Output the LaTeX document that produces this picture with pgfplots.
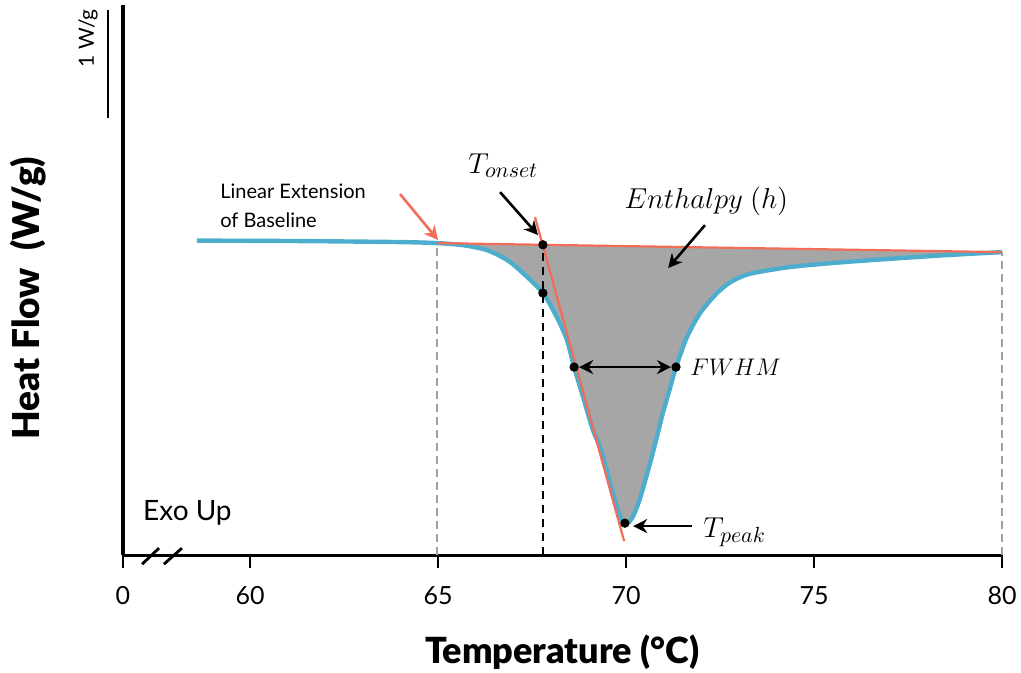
\documentclass[border=0pt]{standalone}
\usepackage{fontspec}
\setmainfont{Lato}[BoldFont={Lato Black}]
\usepackage{pgfplots}
\usepackage{pgfplotstable}
\pgfplotsset{compat=1.18}
\usepgfplotslibrary{fillbetween}
\usetikzlibrary{arrows.meta}

\definecolor{dscblue}{RGB}{76,174,204}
\definecolor{coral}{RGB}{243,108,88}
\definecolor{areagray}{RGB}{166,166,166}
\definecolor{dashgray}{RGB}{160,160,160}

% DSC trace: temperature (C), heat flow (W/g, offset)
\pgfplotstableread{
T y
58.59 2.783
61.33 2.779
63.99 2.770
64.97 2.761
65.66 2.743
66.30 2.699
66.84 2.611
67.26 2.496
67.79 2.319
68.16 2.106
68.43 1.903
68.62 1.664
68.86 1.398
69.12 1.106
69.31 0.956
69.52 0.708
69.76 0.425
69.89 0.310
69.97 0.283
70.08 0.292
70.19 0.345
70.29 0.425
70.40 0.531
70.64 0.814
70.82 1.044
70.98 1.257
71.17 1.478
71.33 1.664
71.62 1.929
71.97 2.142
72.42 2.319
72.80 2.420
73.30 2.490
74.36 2.549
75.69 2.590
77.29 2.628
78.54 2.655
80.00 2.681
}\dsc

\tikzset{arr/.style={-{Stealth[length=7pt,width=7pt]}, line width=1.3pt}}

\begin{document}
\begin{tikzpicture}
\begin{axis}[
  scale only axis,
  width=439.5pt, height=275pt,
  at={(0,0)}, anchor=south west,
  xmin=56.62, xmax=80, ymin=0, ymax=4.867,
  axis lines*=left,
  axis line style={line width=1.6pt, black},
  xtick={56.62,60,65,70,75,80},
  xticklabels={0,60,65,70,75,80},
  ytick=\empty,
  tick align=outside,
  major tick length=6.5pt,
  every tick/.style={black, line width=1.4pt},
  xticklabel style={font=\fontsize{12.5}{14}\selectfont, anchor=north, inner sep=0pt},
  xticklabel shift=9pt,
  clip=false,
]
% guide lines
\addplot[dashgray, line width=0.8pt, dash pattern=on 4pt off 2.5pt] coordinates {(64.97,0) (64.97,2.761)};
\addplot[dashgray, line width=0.8pt, dash pattern=on 4pt off 2.5pt] coordinates {(80,0) (80,2.681)};

% baseline and trace, enthalpy area between them
\addplot[name path=base, draw=none] coordinates {(64.97,2.761) (80,2.681)};
\addplot[name path=trace, draw=none] table[x=T, y=y] {\dsc};
\addplot[areagray, draw=none] fill between[of=trace and base, soft clip={domain=64.97:80}];
\addplot[dscblue, line width=2.2pt, smooth, tension=0.45] table[x=T, y=y] {\dsc};
\addplot[coral, line width=1.1pt] coordinates {(64.97,2.761) (80,2.681)};
\addplot[coral, line width=1.1pt] coordinates {(67.58,2.991) (69.95,0.124)};

% onset line
\addplot[black, line width=1pt, dash pattern=on 4pt off 3pt] coordinates {(67.79,0) (67.79,2.746)};

% key points
\addplot[only marks, mark=*, mark size=2.1pt, black] coordinates {
(67.79,2.746) (67.79,2.319) (68.62,1.664) (71.33,1.664) (69.97,0.283)};

% arrows
\draw[-{Stealth[length=7pt,width=7pt]}, line width=1.3pt, coral] (axis cs:63.99,3.195) -- (axis cs:65.0,2.788);
\draw[arr] (axis cs:66.65,3.212) -- (axis cs:67.66,2.832);
\draw[arr] (axis cs:72.10,2.920) -- (axis cs:71.12,2.540);
\draw[arr, {Stealth[length=7pt,width=7pt]}-{Stealth[length=7pt,width=7pt]}, shorten <=2.5pt, shorten >=2.5pt] (axis cs:68.62,1.664) -- (axis cs:71.33,1.664);
\draw[arr] (axis cs:71.76,0.257) -- (axis cs:70.19,0.257);

% labels
\node[anchor=base west, inner sep=0pt, font=\fontsize{10}{11}\selectfont] at (axis cs:59.20,3.159) {Linear Extension};
\node[anchor=base west, inner sep=0pt, font=\fontsize{10}{11}\selectfont] at (axis cs:59.20,2.903) {of Baseline};
\node[anchor=base west, inner sep=0pt, font=\fontsize{15}{17}\selectfont] at (axis cs:65.80,3.381) {$T_{onset}$};
\node[anchor=base west, inner sep=0pt, font=\fontsize{13.5}{16}\selectfont] at (axis cs:69.95,3.071) {$Enthalpy\ (h)$};
\node[anchor=base west, inner sep=0pt, font=\fontsize{12.5}{15}\selectfont] at (axis cs:71.70,1.593) {$FWHM$};
\node[anchor=base west, inner sep=0pt, font=\fontsize{15}{17}\selectfont] at (axis cs:72.05,0.159) {$T_{peak}$};
\node[anchor=base west, inner sep=0pt, font=\fontsize{14}{16}\selectfont] at (axis cs:57.15,0.310) {Exo Up};

% axis titles
\node[anchor=base, inner sep=0pt, font=\bfseries\fontsize{18}{20}\selectfont] at (axis cs:68.30,-0.956) {Temperature (°C)};
\node[rotate=90, inner sep=0pt, font=\bfseries\fontsize{18.5}{20}\selectfont] at (axis cs:54.10,2.274) {Heat Flow\ \ (W/g)};

% scale bar
\draw[line width=1.2pt] (axis cs:56.22,4.823) -- (axis cs:56.22,3.867);
\node[rotate=90, inner sep=0pt, font=\fontsize{10.5}{12}\selectfont] at (axis cs:55.69,4.575) {1 W/g};

% axis break
\draw[line width=1.4pt] (axis cs:57.13,-0.080) -- (axis cs:57.58,0.062);
\draw[line width=1.4pt] (axis cs:57.71,-0.080) -- (axis cs:58.19,0.062);

\coordinate (bbsw) at (axis cs:53.351,-1.035);
\coordinate (bbne) at (axis cs:80.505,4.912);
\end{axis}
\pgfresetboundingbox
\useasboundingbox (bbsw) rectangle (bbne);
\end{tikzpicture}
\end{document}
